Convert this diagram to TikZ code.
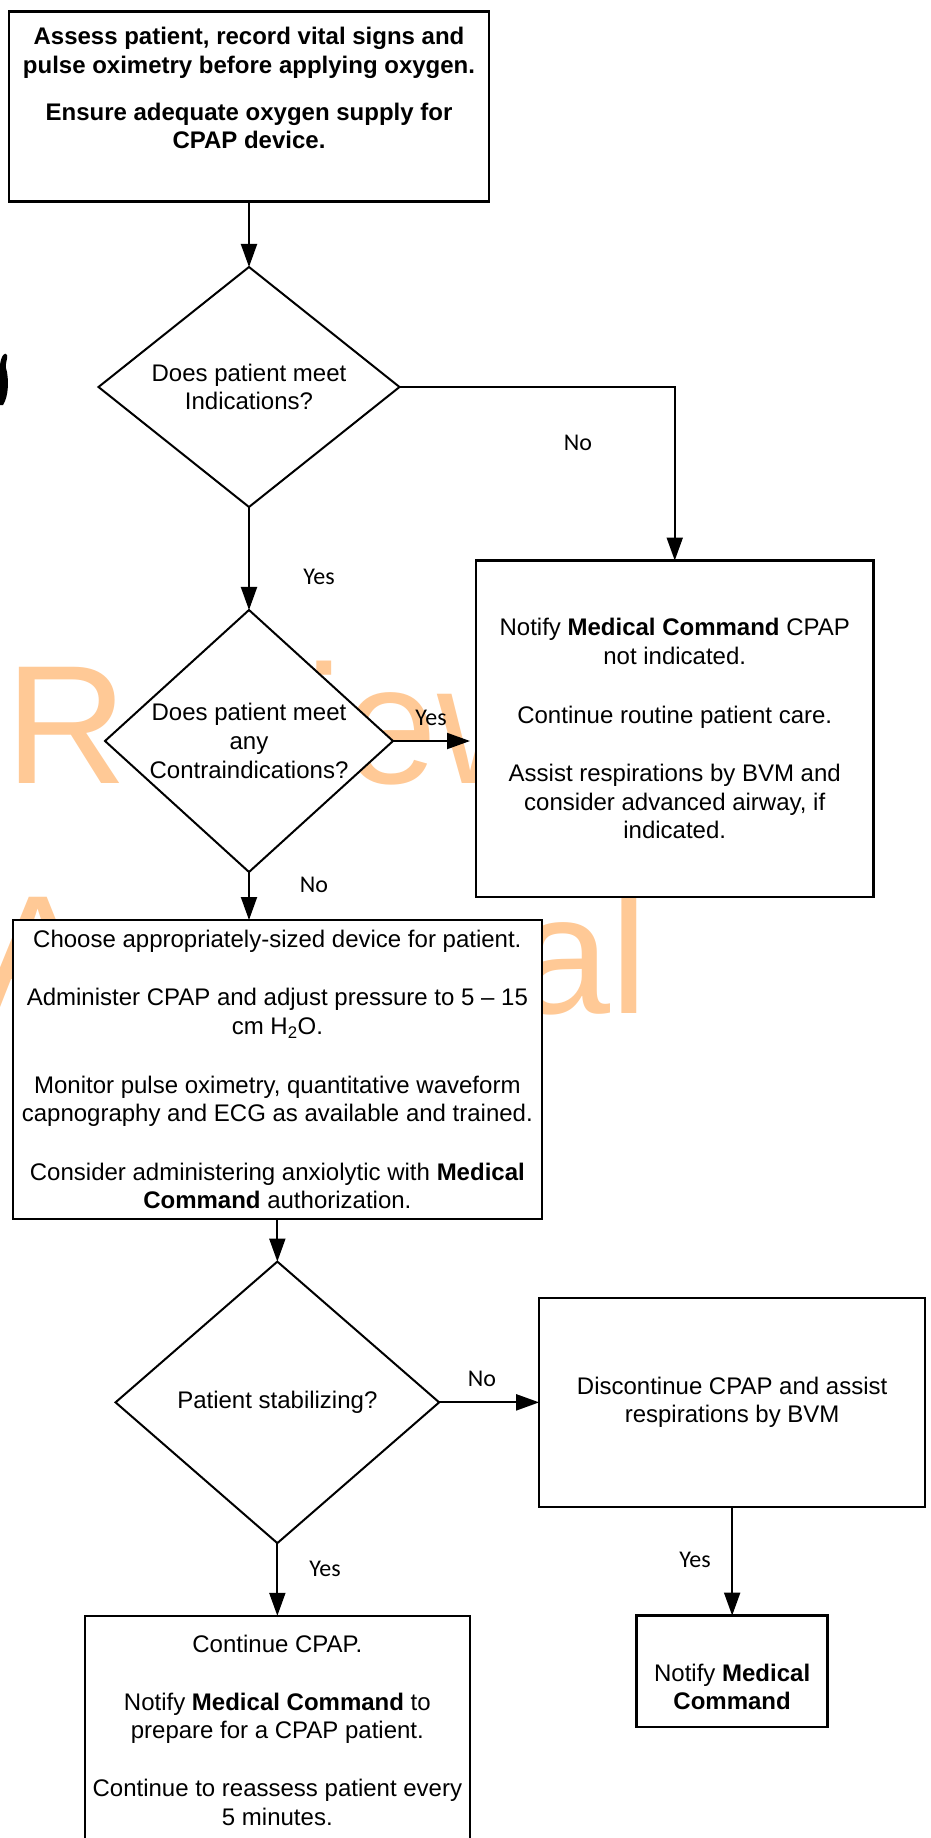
\documentclass[tikz,border=0pt]{standalone}
\usepackage{fontspec}
\setmainfont{Liberation Sans}
\newfontfamily\carlito{Carlito}
\usepackage{tikz}
\usetikzlibrary{arrows.meta,positioning,shapes.geometric}
\definecolor{wmorange}{RGB}{255,201,150}
\newcommand{\bodyfont}{\fontsize{24}{28.6}\selectfont}

\begin{document}
\begin{tikzpicture}[x=1pt, y=1pt,
  box/.style={rectangle, draw, fill=white, line width=2.4pt, align=center, inner sep=0pt, outer sep=0pt, font=\bodyfont},
  decision/.style={diamond, draw, fill=white, line width=2pt, align=center, inner sep=0pt, outer sep=0pt, font=\bodyfont},
  lbl/.style={font=\bodyfont\carlito, inner sep=0pt},
  wm/.style={font=\fontsize{169}{169}\selectfont, text=wmorange, inner sep=0pt, anchor=base west},
  arr/.style={-{Triangle[length=23pt,width=16pt]}, line width=2pt}
]
\useasboundingbox (0,0) rectangle (931,-1838);
\clip (0,0) rectangle (931,-1838);

\node[wm] (review) at (5,-783) {Review};
\node[wm] (approval) at (-19,-1013) {Approval};
\fill (0,-365) .. controls (1,-356) and (5,-351) .. (7,-355) .. controls (8,-359) and (5,-363) .. (6,-368) .. controls (9,-378) and (9,-396) .. (3,-405) -- (0,-405) -- cycle;

\node[box, font=\bodyfont\bfseries, minimum width=480pt, minimum height=190pt] (assess) at (249,-106.7) {Assess patient, record vital signs and\\pulse oximetry before applying oxygen.\\[18pt]Ensure adequate oxygen supply for\\CPAP device.\\\strut};
\node[decision, aspect=1.25, minimum width=301pt, minimum height=240pt, below=65.3pt of assess] (indic) {Does patient meet\\Indications?};
\node[decision, aspect=1.1, minimum width=288pt, minimum height=262pt, below=103pt of indic] (contra) {Does patient meet\\any\\Contraindications?};
\node[box, minimum width=397.5pt, minimum height=336.5pt, right=83pt of contra, yshift=12.25pt] (notcpap) {Notify \textbf{Medical Command} CPAP\\not indicated.\\[30pt]Continue routine patient care.\\[30pt]Assist respirations by BVM and\\consider advanced airway, if\\indicated.};
\node[box, minimum width=528.7pt, minimum height=299pt, below=48pt of contra, xshift=28.35pt] (setup) {Choose appropriately-sized device for patient.\\[30pt]Administer CPAP and adjust pressure to 5 – 15\\cm H\textsubscript{2}O.\\[30pt]Monitor pulse oximetry, quantitative waveform\\capnography and ECG as available and trained.\\[30pt]Consider administering anxiolytic with \textbf{Medical}\\\textbf{Command} authorization.};
\node[decision, aspect=1.15, minimum width=323.6pt, minimum height=281.5pt, below=42.6pt of setup] (stable) {Patient stabilizing?};
\node[box, minimum width=386pt, minimum height=209pt, right=100pt of stable] (discont) {Discontinue CPAP and assist\\respirations by BVM};
\node[box, minimum width=191pt, minimum height=111.3pt, below=108.7pt of discont] (notifymc) {\strut\\Notify \textbf{Medical}\\\textbf{Command}};
\node[box, minimum width=385pt, minimum height=229pt, below=72.7pt of stable] (contcpap) {Continue CPAP.\\[29pt]Notify \textbf{Medical Command} to\\prepare for a CPAP patient.\\[29pt]Continue to reassess patient every\\5 minutes.};

\draw[arr] (assess) -- (indic);
\draw[arr] (indic.east) -| (notcpap.north);
\draw[arr] (indic) -- (contra);
\draw[arr, shorten >=6pt] (contra.east) -- (contra.east -| notcpap.west);
\draw[arr] (contra.south) -- (contra.south |- setup.north);
\draw[arr] (setup) -- (stable);
\draw[arr] (stable) -- (discont);
\draw[arr] (stable) -- (contcpap);
\draw[arr] (discont) -- (notifymc);

\node[lbl] (noind) at (578,-443.2) {No};
\node[lbl] (yesind) at (319,-577) {Yes};
\node[lbl] (yescontra) at (431,-718) {Yes};
\node[lbl] (nocontra) at (314,-885) {No};
\node[lbl] (nostable) at (482,-1379) {No};
\node[lbl] (yesstable) at (325,-1569) {Yes};
\node[lbl] (yesdisc) at (695,-1559.4) {Yes};
\end{tikzpicture}
\end{document}
